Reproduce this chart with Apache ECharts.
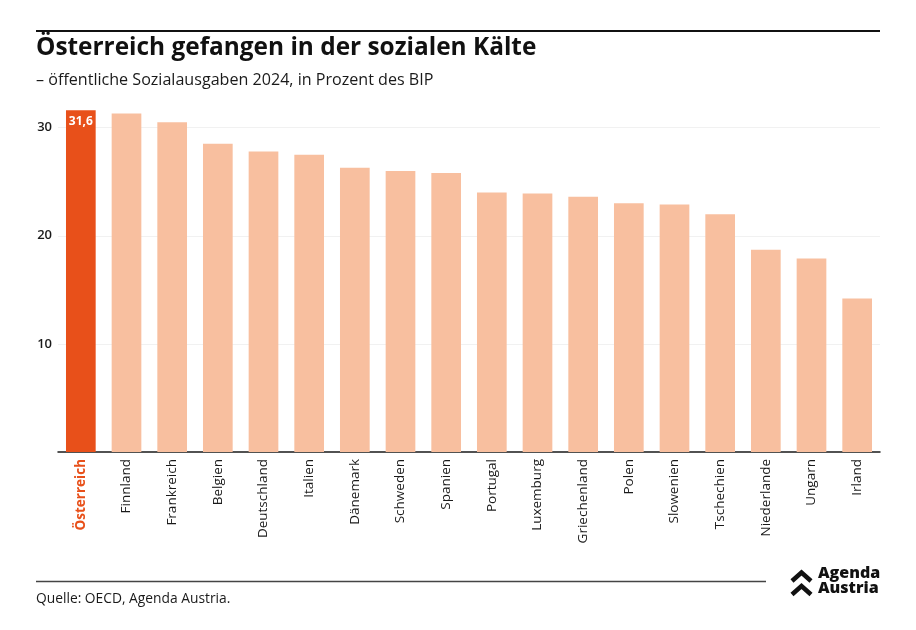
<!DOCTYPE html>
<html>
<head>
<meta charset="utf-8">
<script src="https://cdn.jsdelivr.net/npm/echarts@6/dist/echarts.min.js"></script>
<style>
html,body{margin:0;padding:0;background:#fff;}
#c{width:916px;height:630px;}
</style>
</head>
<body>
<div id="c"></div>
<script>
const countries = ['Österreich','Finnland','Frankreich','Belgien','Deutschland','Italien','Dänemark','Schweden','Spanien','Portugal','Luxemburg','Griechenland','Polen','Slowenien','Tschechien','Niederlande','Ungarn','Irland'];
const values = [31.6,31.3,30.5,28.5,27.8,27.5,26.3,26.0,25.8,24.0,23.9,23.6,23.0,22.9,22.0,18.7,17.9,14.2];
const yTicks = [10,20,30];
const highlightCountry = 'Österreich';

const HL = '#e8501a';
const BASE = '#f8bf9f';
const FONT = '"Open Sans", "Noto Sans", sans-serif';

const chart = echarts.init(document.getElementById('c'), null, {renderer:'canvas'});
chart.setOption({
  backgroundColor:'#fff',
  animation:false,
  textStyle:{fontFamily:FONT},
  grid:{left:58,right:36,top:106,bottom:178,containLabel:false},
  xAxis:{
    type:'category',
    data:countries.map(c => c===highlightCountry ? {value:c,textStyle:{color:HL,fontWeight:'bold'}} : c),
    axisLine:{show:true,lineStyle:{color:'#1a1a1a',width:1.5}},
    axisTick:{show:false},
    axisLabel:{rotate:90,interval:0,margin:7,fontSize:13.5,color:'#1a1a1a',fontFamily:FONT,fontWeight:500}
  },
  yAxis:{
    type:'value',min:0,max:32,interval:10,
    axisLine:{show:false},axisTick:{show:false},
    axisLabel:{showMinLabel:false,showMaxLabel:false,margin:6,fontSize:13,color:'#1a1a1a',fontFamily:FONT,fontWeight:600,
      formatter:v => yTicks.includes(v) ? String(v) : ''},
    splitLine:{show:true,showMinLine:false,showMaxLine:false,lineStyle:{color:'#f1f1f1',width:1}}
  },
  series:[{
    type:'bar',
    barCategoryGap:'35%',
    data:values.map((v,i)=> countries[i]===highlightCountry ?
      {value:v,itemStyle:{color:HL},label:{show:true}} : {value:v,itemStyle:{color:BASE}}),
    label:{show:false,position:'insideTop',distance:5,color:'#fff',fontSize:12,fontWeight:'bold',fontFamily:FONT,
      formatter:p => String(p.value).replace('.',',')}
  }],
  graphic:[
    {type:'line',shape:{x1:36,y1:31,x2:880,y2:31},style:{stroke:'#111',lineWidth:2.2}},
    {type:'text',left:36,top:36,style:{text:'Österreich gefangen in der sozialen Kälte',font:'bold 24.4px '+FONT,fill:'#111'}},
    {type:'text',left:36,top:72,style:{text:'– öffentliche Sozialausgaben 2024, in Prozent des BIP',font:'500 16.1px '+FONT,fill:'#1a1a1a'}},
    {type:'line',shape:{x1:36,y1:581.5,x2:766,y2:581.5},style:{stroke:'#444',lineWidth:1.3}},
    {type:'text',left:36,top:592,style:{text:'Quelle: OECD, Agenda Austria.',font:'500 13.8px '+FONT,fill:'#1a1a1a'}},
    {type:'polyline',shape:{points:[[792,581],[801.5,572.5],[811,581]]},style:{stroke:'#111',lineWidth:4.5,fill:null,lineJoin:'miter'}},
    {type:'polyline',shape:{points:[[792,594.5],[801.5,586],[811,594.5]]},style:{stroke:'#111',lineWidth:4.5,fill:null,lineJoin:'miter'}},
    {type:'text',left:818,top:565,style:{text:'Agenda',font:'800 16px '+FONT,fill:'#111'}},
    {type:'text',left:818,top:580,style:{text:'Austria',font:'800 16px '+FONT,fill:'#111'}}
  ]
});
</script>
</body>
</html>
